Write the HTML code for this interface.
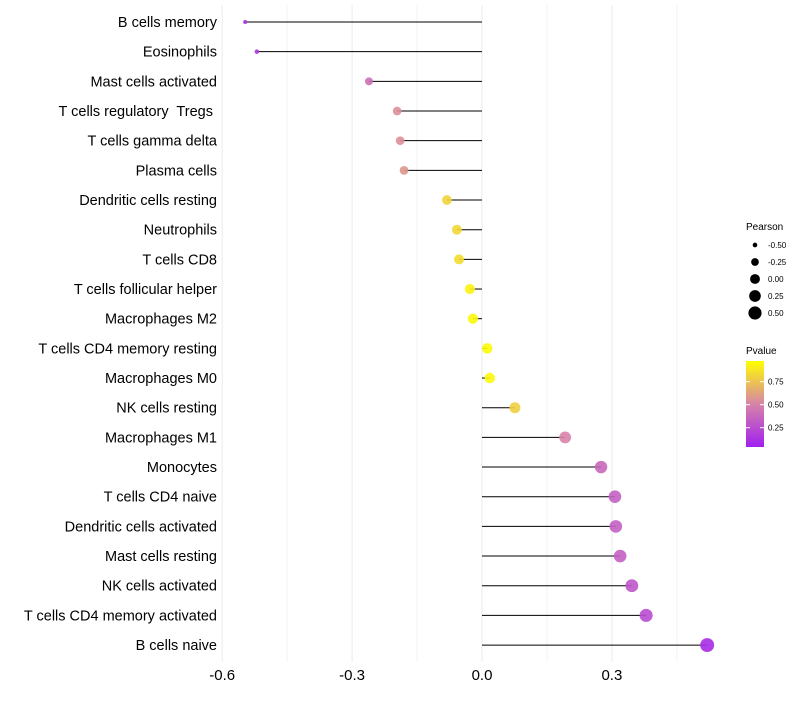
<!DOCTYPE html>
<html><head><meta charset="utf-8"><style>
body{margin:0;background:#fff;font-family:"Liberation Sans",sans-serif}
svg text{font-family:"Liberation Sans",sans-serif;white-space:pre}
</style></head><body>
<svg id="chart" width="800" height="700" xmlns="http://www.w3.org/2000/svg">
<defs><linearGradient id="pg" x1="0" y1="1" x2="0" y2="0">
<stop offset="0" stop-color="#A020F0"/><stop offset="0.5" stop-color="#D784A8"/><stop offset="1" stop-color="#FFFF00"/>
</linearGradient></defs>
<g id="grid"></g><g id="marks"></g><g id="labels"></g>
<g>
<text x="746" y="230" font-size="10">Pearson</text>
<g id="sizeleg"></g>
</g>
<g>
<text x="746" y="354" font-size="10">Pvalue</text>
<rect x="746" y="361" width="18" height="86" fill="url(#pg)"/>
<g id="colleg"></g>
</g>
</svg>
<script>
const categories=["B cells memory","Eosinophils","Mast cells activated","T cells regulatory  Tregs ","T cells gamma delta","Plasma cells","Dendritic cells resting","Neutrophils","T cells CD8","T cells follicular helper","Macrophages M2","T cells CD4 memory resting","Macrophages M0","NK cells resting","Macrophages M1","Monocytes","T cells CD4 naive","Dendritic cells activated","Mast cells resting","NK cells activated","T cells CD4 memory activated","B cells naive"];
const pearson=[-0.547,-0.52,-0.261,-0.196,-0.189,-0.18,-0.081,-0.058,-0.053,-0.028,-0.021,0.012,0.018,0.076,0.192,0.275,0.307,0.309,0.319,0.346,0.379,0.52];
const pvalue=[0.08,0.1,0.4,0.55,0.55,0.58,0.82,0.84,0.86,0.95,0.97,0.98,0.97,0.8,0.5,0.36,0.32,0.32,0.32,0.27,0.22,0.06];
const xTicks=[-0.6,-0.3,0.0,0.3];
const xMinor=[-0.45,-0.15,0.15,0.45];
const sizeLegend=[-0.5,-0.25,0,0.25,0.5];
const colLegend=[0.25,0.5,0.75];
const NS="http://www.w3.org/2000/svg";
const X=v=>482+v*433;
const Y=i=>22+i*29.67;
const R=v=>Math.sqrt(Math.max(3,27+42*v));
const PY=p=>447-(p-0.04)*92;
function mix(a,b,t){return a.map((c,i)=>Math.round(c+(b[i]-c)*t));}
function col(p){const s=[[160,32,240],[215,132,168],[255,255,0]];const c=p<0.5?mix(s[0],s[1],p/0.5):mix(s[1],s[2],(p-0.5)/0.5);return `rgb(${c})`;}
function mk(t,a,parent){const e=document.createElementNS(NS,t);for(const k in a)e.setAttribute(k,a[k]);document.getElementById(parent).appendChild(e);return e;}
xTicks.forEach(v=>{
 const l=mk('line',{x1:X(v),x2:X(v),y1:5,y2:662,stroke:'#ebebeb','stroke-width':1},'grid');
 
 
 const t=mk('text',{x:X(v),y:680,'font-size':15,'text-anchor':'middle',fill:'#000'},'labels');
 t.textContent=v.toFixed(1);
 
 
});
xMinor.forEach(v=>{
 const l=mk('line',{x1:X(v),x2:X(v),y1:5,y2:662,stroke:'#f3f3f3','stroke-width':1},'grid');
 
 
});
categories.forEach((c,i)=>{
 const t=mk('text',{x:217,y:Y(i)+5,'font-size':14.5,'text-anchor':'end',fill:'#000'},'labels');
 t.textContent=c;
 
 
 const l=mk('line',{x1:X(0),x2:X(pearson[i]),y1:Y(i),y2:Y(i),stroke:'#000','stroke-width':1},'marks');
 
 
 const d=mk('circle',{cx:X(pearson[i]),cy:Y(i),r:R(pearson[i]),fill:col(pvalue[i]),'fill-opacity':0.9},'marks');
 
 
});
sizeLegend.forEach((v,i)=>{
 const y=245+i*17;
 const d=mk('circle',{cx:755,cy:y,r:R(v)*0.95,fill:'#000'},'sizeleg');
 
 
 const t=mk('text',{x:768,y:y+3,'font-size':8},'sizeleg');
 t.textContent=v.toFixed(2);
 
 
});
colLegend.forEach(v=>{
 const y=PY(v);
 const t=mk('text',{x:768,y:y+3,'font-size':8},'colleg');
 t.textContent=v.toFixed(2);
 
 
 mk('line',{x1:746,x2:750,y1:y,y2:y,stroke:'#fff'},'colleg');
 mk('line',{x1:760,x2:764,y1:y,y2:y,stroke:'#fff'},'colleg');
});
</script>
</body></html>
